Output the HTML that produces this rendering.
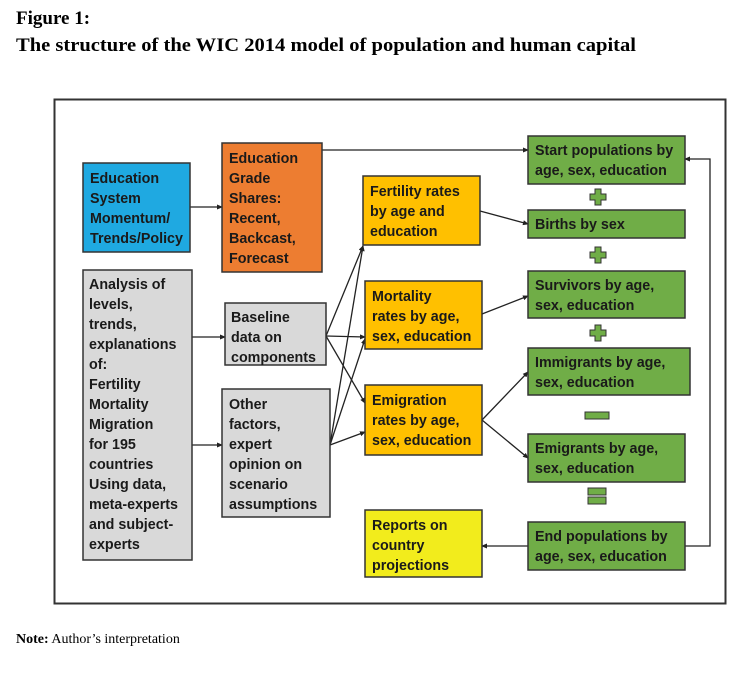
<!DOCTYPE html>
<html><head><meta charset="utf-8"><style>
html,body{margin:0;padding:0;background:#fff;}
svg{display:block;}
.t{font-family:"Liberation Sans",sans-serif;font-weight:bold;font-size:14.3px;fill:#1a1a1a;}
.s{font-family:"Liberation Serif",serif;font-weight:bold;font-size:19px;fill:#000;}
.b{stroke:#333;stroke-width:1.5;}
.l{stroke:#222;stroke-width:1.3;fill:none;}
</style></head><body>
<svg width="750" height="680" viewBox="0 0 750 680">
<defs><marker id="a" markerWidth="6" markerHeight="6" refX="5" refY="3" orient="auto" markerUnits="userSpaceOnUse"><path d="M0,0.5 L6,3 L0,5.5 z" fill="#222"/></marker></defs>
<text class="s" x="16" y="24">Figure 1:</text>
<text class="s" x="16" y="51" textLength="620" lengthAdjust="spacingAndGlyphs">The structure of the WIC 2014 model of population and human capital</text>
<rect x="54.5" y="99.5" width="671" height="504" fill="none" stroke="#333" stroke-width="2"/>

<path class="l" d="M322,150 H528" marker-end="url(#a)"/>
<path class="l" d="M190,207 H222" marker-end="url(#a)"/>
<path class="l" d="M192,337 H225" marker-end="url(#a)"/>
<path class="l" d="M192,445 H222" marker-end="url(#a)"/>
<path class="l" d="M326,336 L363,246" marker-end="url(#a)"/>
<path class="l" d="M326,336 L365,337" marker-end="url(#a)"/>
<path class="l" d="M326,336 L365,403" marker-end="url(#a)"/>
<path class="l" d="M330,445 L363,246" marker-end="url(#a)"/>
<path class="l" d="M330,445 L365,339" marker-end="url(#a)"/>
<path class="l" d="M330,445 L365,432" marker-end="url(#a)"/>
<path class="l" d="M480,211 L528,224" marker-end="url(#a)"/>
<path class="l" d="M482,314 L528,296" marker-end="url(#a)"/>
<path class="l" d="M482,420 L528,372" marker-end="url(#a)"/>
<path class="l" d="M482,420 L528,458" marker-end="url(#a)"/>
<path class="l" d="M528,546 H482" marker-end="url(#a)"/>
<path class="l" d="M685,546 H710 V159 H685" marker-end="url(#a)"/>

<rect class="b" x="83" y="163" width="107" height="89" fill="#1FA9E1"/>
<text class="t"><tspan x="90" y="183">Education</tspan><tspan x="90" y="203">System</tspan><tspan x="90" y="223">Momentum/</tspan><tspan x="90" y="243">Trends/Policy</tspan></text>

<rect class="b" x="222" y="143" width="100" height="129" fill="#ED7D31"/>
<text class="t"><tspan x="229" y="163">Education</tspan><tspan x="229" y="183">Grade</tspan><tspan x="229" y="203">Shares:</tspan><tspan x="229" y="223">Recent,</tspan><tspan x="229" y="243">Backcast,</tspan><tspan x="229" y="263">Forecast</tspan></text>

<rect class="b" x="83" y="270" width="109" height="290" fill="#D9D9D9"/>
<text class="t"><tspan x="89" y="289">Analysis of</tspan><tspan x="89" y="309">levels,</tspan><tspan x="89" y="329">trends,</tspan><tspan x="89" y="349">explanations</tspan><tspan x="89" y="369">of:</tspan><tspan x="89" y="389">Fertility</tspan><tspan x="89" y="409">Mortality</tspan><tspan x="89" y="429">Migration</tspan><tspan x="89" y="449">for 195</tspan><tspan x="89" y="469">countries</tspan><tspan x="89" y="489">Using data,</tspan><tspan x="89" y="509">meta-experts</tspan><tspan x="89" y="529">and subject-</tspan><tspan x="89" y="549">experts</tspan></text>

<rect class="b" x="225" y="303" width="101" height="62" fill="#D9D9D9"/>
<text class="t"><tspan x="231" y="322">Baseline</tspan><tspan x="231" y="342">data on</tspan><tspan x="231" y="362">components</tspan></text>

<rect class="b" x="222" y="389" width="108" height="128" fill="#D9D9D9"/>
<text class="t"><tspan x="229" y="409">Other</tspan><tspan x="229" y="429">factors,</tspan><tspan x="229" y="449">expert</tspan><tspan x="229" y="469">opinion on</tspan><tspan x="229" y="489">scenario</tspan><tspan x="229" y="509">assumptions</tspan></text>

<rect class="b" x="363" y="176" width="117" height="69" fill="#FFC000"/>
<text class="t"><tspan x="370" y="196">Fertility rates</tspan><tspan x="370" y="216">by age and</tspan><tspan x="370" y="236">education</tspan></text>

<rect class="b" x="365" y="281" width="117" height="68" fill="#FFC000"/>
<text class="t"><tspan x="372" y="301">Mortality</tspan><tspan x="372" y="321">rates by age,</tspan><tspan x="372" y="341">sex, education</tspan></text>

<rect class="b" x="365" y="385" width="117" height="70" fill="#FFC000"/>
<text class="t"><tspan x="372" y="405">Emigration</tspan><tspan x="372" y="425">rates by age,</tspan><tspan x="372" y="445">sex, education</tspan></text>

<rect class="b" x="365" y="510" width="117" height="67" fill="#F2EC1C"/>
<text class="t"><tspan x="372" y="530">Reports on</tspan><tspan x="372" y="550">country</tspan><tspan x="372" y="570">projections</tspan></text>

<g fill="#70AD47">
<rect class="b" x="528" y="136" width="157" height="48"/>
<rect class="b" x="528" y="210" width="157" height="28"/>
<rect class="b" x="528" y="271" width="157" height="47"/>
<rect class="b" x="528" y="348" width="162" height="47"/>
<rect class="b" x="528" y="434" width="157" height="48"/>
<rect class="b" x="528" y="522" width="157" height="48"/>
</g>
<text class="t"><tspan x="535" y="155">Start populations by</tspan><tspan x="535" y="175">age, sex, education</tspan></text>
<text class="t" x="535" y="229">Births by sex</text>
<text class="t"><tspan x="535" y="290">Survivors by age,</tspan><tspan x="535" y="310">sex, education</tspan></text>
<text class="t"><tspan x="535" y="367">Immigrants by age,</tspan><tspan x="535" y="387">sex, education</tspan></text>
<text class="t"><tspan x="535" y="453">Emigrants by age,</tspan><tspan x="535" y="473">sex, education</tspan></text>
<text class="t"><tspan x="535" y="541">End populations by</tspan><tspan x="535" y="561">age, sex, education</tspan></text>

<g fill="#70AD47" stroke="#333" stroke-width="1">
<path d="M595,189 h6 v5 h5 v6 h-5 v5 h-6 v-5 h-5 v-6 h5 z"/>
<path d="M595,247 h6 v5 h5 v6 h-5 v5 h-6 v-5 h-5 v-6 h5 z"/>
<path d="M595,325 h6 v5 h5 v6 h-5 v5 h-6 v-5 h-5 v-6 h5 z"/>
<rect x="585" y="412" width="24" height="7"/>
<rect x="588" y="488" width="18" height="7"/>
<rect x="588" y="497" width="18" height="7"/>
</g>

<text x="16" y="643" style="font-family:'Liberation Serif',serif;font-size:14px;fill:#000"><tspan font-weight="bold">Note:</tspan> Author’s interpretation</text>
</svg>
</body></html>
